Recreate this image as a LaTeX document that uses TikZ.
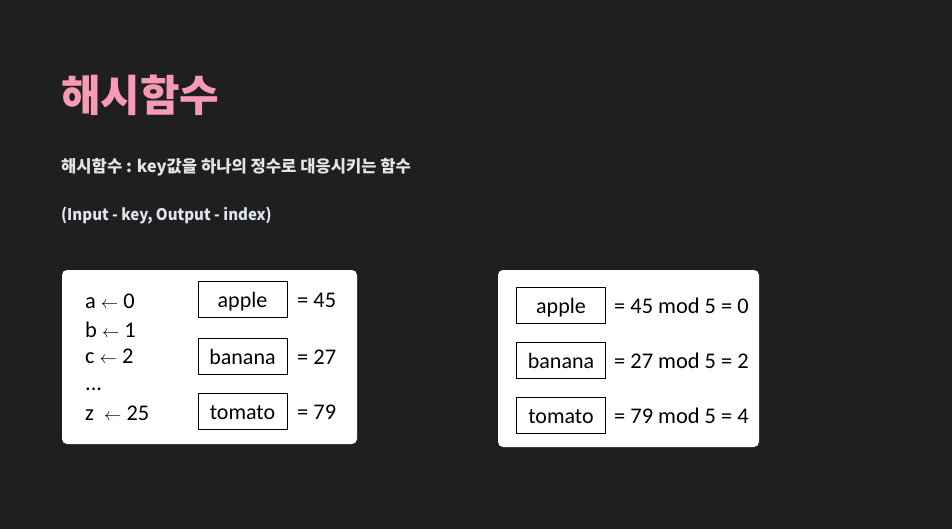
\documentclass[tikz,border=0pt]{standalone}
\usepackage{fontspec}
\setmainfont{Carlito}
\newfontfamily\kr{Noto Sans CJK KR}
\newfontfamily\krn{Noto Sans CJK KR}[FakeStretch=0.94]
\definecolor{bg}{HTML}{1F1F1F}
\definecolor{pinkt}{HTML}{F79AB5}
\definecolor{subt}{HTML}{E4E4E4}
\definecolor{inpt}{HTML}{DFE3EE}
\newcommand{\la}{{\fontsize{18}{18}\selectfont$\leftarrow$}}
\tikzset{
  panel/.style={fill=white, rounded corners=5pt, draw=none},
  keybox/.style={draw=black, line width=0.9pt, fill=white, minimum width=89pt, minimum height=36pt,
    inner sep=0pt, text height=18pt, text depth=2pt, font=\fontsize{22}{26}\selectfont},
  txt/.style={anchor=base west, inner sep=0pt, font=\fontsize{22.4}{26}\selectfont, text=black},
}
\begin{document}
\begin{tikzpicture}[x=1pt,y=-1pt]
\fill[bg] (0,0) rectangle (952,529);
\useasboundingbox (0,0) rectangle (952,529);
% titles
\node[anchor=base west, inner sep=0pt, text=pinkt, font=\kr\bfseries\fontsize{43}{47}\selectfont] (title) at (61,112) {해시함수};
\node[anchor=base west, inner sep=0pt, text=subt, font=\kr\bfseries\fontsize{16.6}{20}\selectfont] (sub) at (61,173) {해시함수 : key값을 하나의 정수로 대응시키는 함수};
\node[anchor=base west, inner sep=0pt, text=inpt, font=\krn\bfseries\fontsize{16}{20}\selectfont] (io) at (61,221) {(Input - key, Output - index)};
% panels
\draw[panel] (62,270) rectangle (357,444);
\draw[panel] (498,270) rectangle (759,447);
% left panel
\node[txt] (la) at (85,308) {a \la\ 0};
\node[txt] (lb) at (85,337) {b \la\ 1};
\node[txt] (lc) at (85,363) {c \la\ 2};
\node[txt] (ld) at (85,390) {...};
\node[txt] (lz) at (85,420) {z \ \la\ 25};
\node[keybox] (k1) at (242.5,299.5) {apple};
\node[keybox] (k2) at (242.5,356.5) {banana};
\node[keybox] (k3) at (242.5,411.5) {tomato};
\node[txt] (v1) at (297,307.5) {= 45};
\node[txt] (v2) at (297,364.5) {= 27};
\node[txt] (v3) at (297,419.5) {= 79};
% right panel
\node[keybox] (r1) at (561,305) {apple};
\node[keybox] (r2) at (561,360) {banana};
\node[keybox] (r3) at (561,415) {tomato};
\node[txt] (m1) at (614,313) {= 45 mod 5 = 0};
\node[txt] (m2) at (614,368) {= 27 mod 5 = 2};
\node[txt] (m3) at (614,423) {= 79 mod 5 = 4};
\end{tikzpicture}
\end{document}
